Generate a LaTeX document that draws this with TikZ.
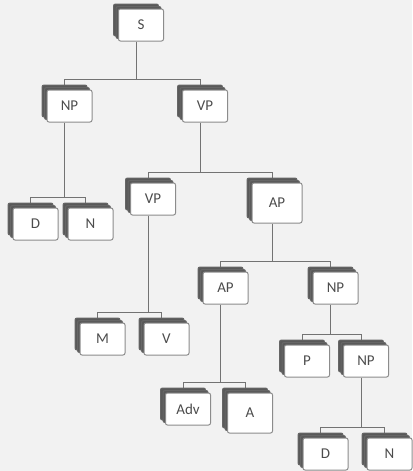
\documentclass[tikz,border=0pt]{standalone}
\usepackage{fontspec}
\setmainfont{Carlito}
\usetikzlibrary{shadows,backgrounds}

\begin{document}
\begin{tikzpicture}[x=1pt, y=-1pt, every node/.style={font=\fontsize{15}{17}\selectfont, text=black!70},
    caja/.style={draw=black!45, fill=white, rounded corners=2pt, line width=1pt, inner sep=0pt,
        minimum width=45pt, minimum height=32pt,
        double copy shadow={shadow xshift=-2.5pt, shadow yshift=2.5pt, fill=black!65, draw=black!60}},
    rama/.style={black!55, line width=0.8pt}]
    % Fondo gris claro con el tamaño de la figura.
    \begin{scope}[on background layer]
        \fill[black!5] (0,0) rectangle (412,471);
    \end{scope}

    % Nodos del árbol sintáctico.
    \node[caja] (s) at (141,25) {S};
    \node[caja] (np) at (69.5,106) {NP};
    \node[caja] (vp) at (205,106) {VP};
    \node[caja] (d) at (35.5,224) {D};
    \node[caja] (n) at (90.5,224) {N};
    \node[caja] (vpa) at (153,199) {VP};
    \node[caja, minimum width=50pt, minimum height=40pt] (apa) at (277,203) {AP};
    \node[caja] (m) at (102.5,339) {M};
    \node[caja] (v) at (166.5,339) {V};
    \node[caja] (apb) at (225.5,288) {AP};
    \node[caja] (npb) at (335.5,288) {NP};
    \node[caja] (adv) at (188,409) {Adv};
    \node[caja, minimum height=40pt] (a) at (250,413) {A};
    \node[caja] (p) at (307,361) {P};
    \node[caja] (npc) at (366,361) {NP};
    \node[caja] (dd) at (325.5,454) {D};
    \node[caja] (nn) at (389.5,454) {N};

    % Ramas: bajada del padre, barra horizontal y bajada al hijo.
    \begin{scope}[on background layer]
        \foreach \padre/\hijo in {s/np, s/vp, np/d, np/n, vp/vpa, vp/apa, vpa/m, vpa/v,
            apa/apb, apa/npb, apb/adv, apb/a, npb/p, npb/npc, npc/dd, npc/nn} {
            \draw[rama] ([xshift=-5pt]\padre.south) |- ([xshift=-5pt, yshift=10pt]\hijo.north)
                -- ([xshift=-5pt]\hijo.north);
        }
    \end{scope}
\end{tikzpicture}
\end{document}
